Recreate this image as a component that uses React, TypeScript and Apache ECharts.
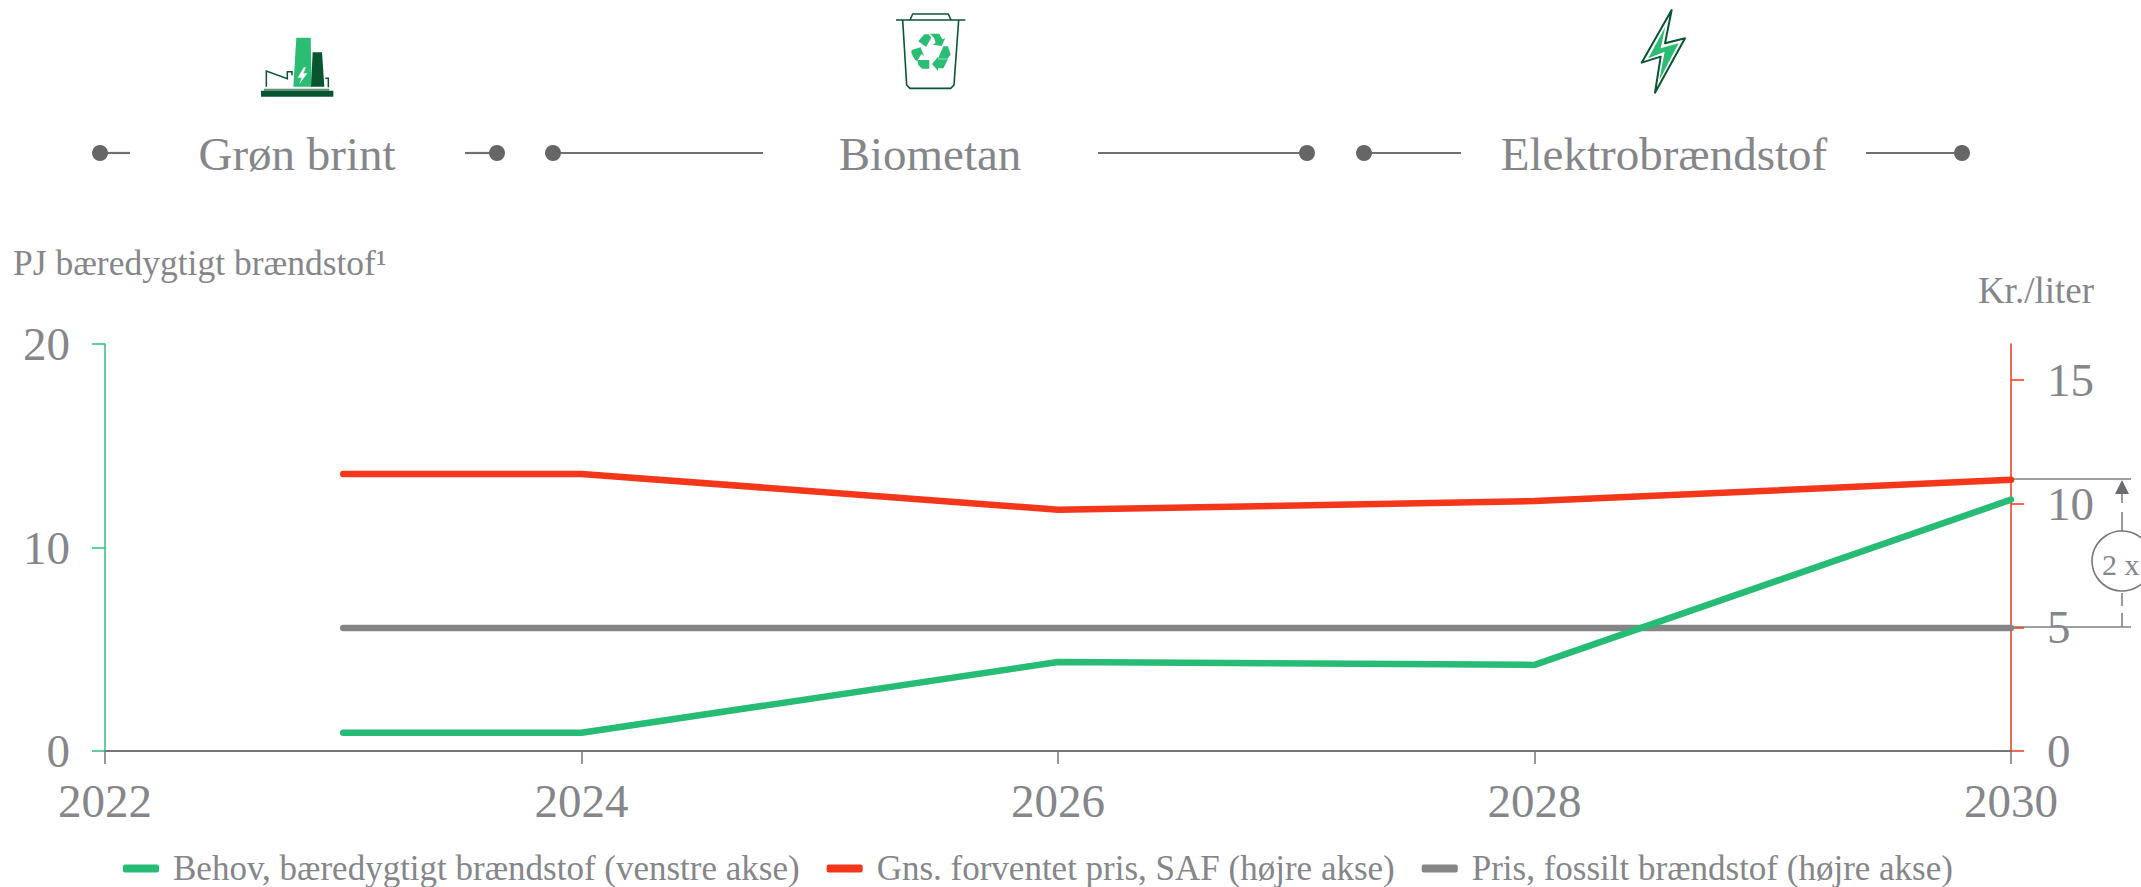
import React, { useEffect, useRef } from "react";
import * as echarts from "echarts";

const FONT = "'Liberation Serif', Georgia, serif";
const TEXT = "#85868a";
const DARK = "#08552f";
const GREEN = "#2bbd73";
const RED = "#f4361a";
const GREY = "#858585";
const DOT = "#666666";

const years = [2023, 2024, 2026, 2028, 2030];
const demand = [0.9, 0.9, 4.37, 4.23, 12.35];
const safPrice = [11.2, 11.2, 9.75, 10.1, 10.96];
const fossilPrice = [4.97, 4.97, 4.97, 4.97, 4.97];
const rightTicks = [0, 5, 10, 15];
const seriesNames = [
  "Behov, bæredygtigt brændstof (venstre akse)",
  "Gns. forventet pris, SAF (højre akse)",
  "Pris, fossilt brændstof (højre akse)",
];
const phases = [
  { label: "Grøn brint", cx: 297, x0: 100, x1: 130, x2: 465, x3: 497 },
  { label: "Biometan", cx: 930, x0: 553, x1: 763, x2: 1098, x3: 1307 },
  { label: "Elektrobrændstof", cx: 1664, x0: 1364, x1: 1461, x2: 1866, x3: 1962 },
];

const pts = (arr: number[][], ox: number) => arr.map(([x, y]) => [ox + x / 3, y / 3]);

function phaseGraphics() {
  const out: any[] = [];
  phases.forEach((p) => {
    [[p.x0, p.x1], [p.x2, p.x3]].forEach(([a, b]) =>
      out.push({ type: "line", shape: { x1: a, y1: 153, x2: b, y2: 153 }, style: { stroke: "#707070", lineWidth: 2.2 } })
    );
    [p.x0, p.x3].forEach((x) =>
      out.push({ type: "circle", shape: { cx: x, cy: 153, r: 8 }, style: { fill: DOT } })
    );
    out.push({
      type: "text",
      x: p.cx,
      y: 154,
      style: { text: p.label, fill: TEXT, font: `47px ${FONT}`, textAlign: "center", textVerticalAlign: "middle" },
    });
  });
  return out;
}

function factoryIcon() {
  const poly = (a: number[][], fill: string) => ({ type: "polygon", shape: { points: pts(a, 60) }, style: { fill } });
  const line = (a: number[][]) => ({
    type: "polyline",
    shape: { points: pts(a, 60) },
    style: { stroke: DARK, lineWidth: 1.5, fill: "none" },
  });
  return [
    line([[619, 260], [619, 213], [682, 236], [682, 215], [696, 215], [696, 226]]),
    line([[796, 235], [805, 235], [805, 262]]),
    poly([[612, 266], [808, 266], [808, 272], [612, 272]], "#5d8f76"),
    poly([[603, 272], [820, 272], [820, 290], [603, 290]], DARK),
    poly([[709, 113], [752, 113], [755, 260], [700, 260]], GREEN),
    poly([[758, 157], [786, 157], [793, 260], [753, 260]], DARK),
    poly([[732, 201], [713, 233], [725, 233], [718, 252], [742, 220], [730, 220], [738, 203]], "#ffffff"),
  ];
}

function binIcon() {
  const line = (a: number[][]) => ({
    type: "polyline",
    shape: { points: pts(a, 860), smooth: 0 },
    style: { stroke: DARK, lineWidth: 1.6, fill: "none", lineJoin: "round" },
  });
  const poly = (a: number[][]) => ({ type: "polygon", shape: { points: pts(a, 860) }, style: { fill: GREEN } });
  return [
    line([[108, 60], [316, 60]]),
    line([[150, 60], [158, 42], [265, 42], [273, 60]]),
    line([[128, 60], [140, 255], [150, 265], [272, 265], [282, 255], [296, 60]]),
    poly([[175, 124], [193, 103], [206, 103], [214, 113], [198, 141]]),
    poly([[210, 101], [238, 101], [247, 118], [256, 114], [245, 138], [218, 134], [227, 128], [222, 114]]),
    poly([[250, 139], [264, 139], [272, 165], [262, 176], [234, 176]]),
    poly([[264, 178], [234, 178], [234, 170], [216, 192], [234, 213], [234, 205], [250, 205]]),
    poly([[172, 180], [208, 180], [208, 206], [186, 206], [175, 195]]),
    poly([[155, 150], [182, 142], [192, 168], [184, 162], [172, 183], [165, 180], [154, 160]]),
  ];
}

function boltIcon() {
  return [
    {
      type: "polygon",
      shape: { points: pts([[155, 30], [135, 130], [195, 115], [105, 278], [122, 170], [65, 188]], 1620) },
      style: { fill: "#ffffff", stroke: DARK, lineWidth: 2, lineJoin: "round" },
    },
    {
      type: "polygon",
      shape: { points: pts([[136, 80], [122, 145], [176, 130], [118, 240], [134, 155], [85, 175]], 1620) },
      style: { fill: GREEN },
    },
  ];
}

function annotationGraphics() {
  const s = { stroke: "#808083", lineWidth: 1.6 };
  const seg = (x1: number, y1: number, x2: number, y2: number) => ({
    type: "line",
    shape: { x1, y1, x2, y2 },
    style: s,
  });
  return [
    seg(2011, 479, 2131, 479),
    seg(2011, 627, 2131, 627),
    { type: "polygon", shape: { points: [[2122, 480], [2115, 494], [2129, 494]] }, style: { fill: "#6a6b6f" } },
    seg(2122, 494, 2122, 503),
    seg(2122, 512, 2122, 531),
    seg(2122, 593, 2122, 606),
    seg(2122, 613, 2122, 627),
    { type: "circle", shape: { cx: 2122, cy: 561, r: 30 }, style: { fill: "#ffffff", stroke: "#77787b", lineWidth: 1.6 } },
    {
      type: "text",
      x: 2102,
      y: 564,
      style: { text: "2 x", fill: TEXT, font: `30px ${FONT}`, textVerticalAlign: "middle" },
    },
  ];
}

export default function App() {
  const ref = useRef<HTMLDivElement>(null);
  useEffect(() => {
    document.body.style.margin = "0";
    const chart = echarts.init(ref.current!, undefined, { renderer: "svg" });
    const line = (name: string, data: number[], color: string, yAxisIndex: number, z: number) => ({
      name,
      type: "line",
      data: years.map((y, i) => [y, data[i]]),
      yAxisIndex,
      z,
      clip: false,
      symbol: "none",
      lineStyle: { color, width: 6.5, cap: "round", join: "round" },
      itemStyle: { color },
    });
    chart.setOption({
      animation: false,
      backgroundColor: "#ffffff",
      grid: { left: 105, right: 130, top: 344, bottom: 136, containLabel: false },
      legend: {
        left: 123,
        top: 851,
        icon: "roundRect",
        itemWidth: 36,
        itemHeight: 8,
        itemGap: 27,
        padding: 0,
        textStyle: { color: TEXT, fontFamily: FONT, fontSize: 35, padding: [4, 0, 0, 9] },
        data: seriesNames,
      },
      xAxis: {
        type: "value",
        min: 2022,
        max: 2030,
        interval: 2,
        splitLine: { show: false },
        axisLine: { onZero: false, lineStyle: { color: "#767678", width: 2 } },
        axisTick: { length: 13, lineStyle: { color: "#767678", width: 1.5 } },
        axisLabel: {
          color: TEXT,
          fontFamily: FONT,
          fontSize: 47,
          margin: 26,
          formatter: (v: number) => String(v),
        },
      },
      yAxis: [
        {
          type: "value",
          min: 0,
          max: 20,
          interval: 10,
          splitLine: { show: false },
          axisLine: { show: true, lineStyle: { color: "#2fc07a", width: 1.5 } },
          axisTick: { show: true, length: 13, lineStyle: { color: "#2fc07a", width: 1.5 } },
          axisLabel: { color: TEXT, fontFamily: FONT, fontSize: 47, margin: 35 },
        },
        {
          type: "value",
          position: "right",
          min: 0,
          max: 16.45,
          interval: 5,
          splitLine: { show: false },
          axisLine: { show: true, lineStyle: { color: RED, width: 1.5 } },
          axisTick: { show: true, length: 13, customValues: rightTicks, lineStyle: { color: RED, width: 1.5 } },
          axisLabel: {
            color: TEXT,
            fontFamily: FONT,
            fontSize: 47,
            margin: 36,
            padding: [8, 0, 0, 0],
            customValues: rightTicks,
          },
        },
      ],
      series: [
        line(seriesNames[2], fossilPrice, GREY, 1, 3),
        line(seriesNames[0], demand, "#26bc75", 0, 4),
        line(seriesNames[1], safPrice, RED, 1, 5),
      ],
      graphic: [
        ...phaseGraphics(),
        ...factoryIcon(),
        ...binIcon(),
        ...boltIcon(),
        ...annotationGraphics(),
        {
          type: "text",
          x: 13,
          y: 263,
          style: { text: "PJ bæredygtigt brændstof¹", fill: TEXT, font: `35.5px ${FONT}`, textVerticalAlign: "middle" },
        },
        {
          type: "text",
          x: 2094,
          y: 290,
          style: { text: "Kr./liter", fill: TEXT, font: `37px ${FONT}`, textAlign: "right", textVerticalAlign: "middle" },
        },
      ],
    });
    return () => chart.dispose();
  }, []);
  return <div ref={ref} style={{ width: 2141, height: 887, overflow: "hidden" }} />;
}
